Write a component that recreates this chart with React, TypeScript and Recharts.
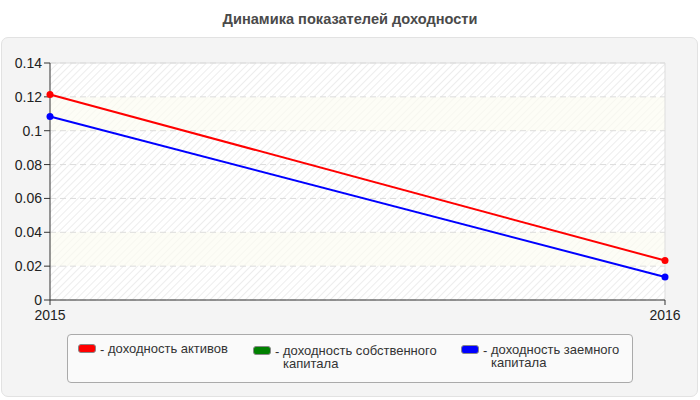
import { LineChart, Line, XAxis, YAxis, CartesianGrid, ReferenceLine } from "recharts";

const years = ["2015", "2016"];
const assetReturn = [0.1214, 0.0233];
const equityReturn: (number | null)[] = [null, null];
const debtReturn = [0.1084, 0.0136];
const yTicks = [0, 0.02, 0.04, 0.06, 0.08, 0.1, 0.12, 0.14];

const series = [
  { key: "assets", name: "доходность активов", color: "#ff0000" },
  { key: "equity", name: "доходность собственного капитала", color: "#008000" },
  { key: "debt", name: "доходность заемного капитала", color: "#0000ff" },
];

const data = years.map((year, i) => ({
  year,
  assets: assetReturn[i],
  equity: equityReturn[i],
  debt: debtReturn[i],
}));

const font = "'Liberation Sans', Arial, sans-serif";

// legend column positions follow the reference layout
const legendPos = [
  { left: 10, top: 7 },
  { left: 185, top: 9 },
  { left: 393, top: 8 },
];

export default function App() {
  return (
    <div style={{ position: "relative", width: 700, height: 400, background: "#fff", fontFamily: font }}>
      <style>{`body{margin:0}`}</style>
      <div
        style={{
          position: "absolute",
          top: 11,
          left: 0,
          width: 700,
          textAlign: "center",
          fontWeight: "bold",
          fontSize: 14.6,
          color: "#4a4a4a",
        }}
      >
        Динамика показателей доходности
      </div>
      <div
        style={{
          position: "absolute",
          left: 1,
          top: 37,
          width: 695,
          height: 358,
          background: "#f4f4f4",
          border: "1px solid #e2e2e2",
          borderRadius: 7,
        }}
      />
      <div style={{ position: "absolute", left: 0, top: 0 }}>
        <LineChart width={700} height={400} data={data} margin={{ top: 63, right: 35, bottom: 70, left: 0 }}>
          <defs>
            <pattern id="hatch" width="5" height="5" patternUnits="userSpaceOnUse" patternTransform="rotate(45)">
              <rect width="5" height="5" fill="#ffffff" />
              <line x1="0" y1="0" x2="0" y2="5" stroke="#e8e8e8" strokeWidth="1.5" />
            </pattern>
            <pattern id="hatchY" width="5" height="5" patternUnits="userSpaceOnUse" patternTransform="rotate(45)">
              <rect width="5" height="5" fill="#fdfdf6" />
              <line x1="0" y1="0" x2="0" y2="5" stroke="#f2f2ea" strokeWidth="1" />
            </pattern>
          </defs>
          <CartesianGrid
            vertical={false}
            stroke="#dcdcdc"
            strokeDasharray="6 4"
            fill="url(#hatch)"
            horizontalFill={[
              "url(#hatch)",
              "url(#hatchY)",
              "url(#hatch)",
              "url(#hatch)",
              "url(#hatch)",
              "url(#hatchY)",
              "url(#hatch)",
            ]}
          />
          <ReferenceLine y={0.14} stroke="#dddddd" />
          <ReferenceLine x="2016" stroke="#dddddd" />
          <XAxis
            dataKey="year"
            height={30}
            stroke="#333"
            tickSize={5}
            tick={{ fill: "#222", fontSize: 14, fontFamily: font, dy: 3 }}
            tickLine={{ stroke: "#333" }}
          />
          <YAxis
            width={50}
            domain={[0, 0.14]}
            ticks={yTicks}
            stroke="#333"
            tickSize={6}
            tick={{ fill: "#222", fontSize: 14, fontFamily: font }}
            interval={0}
          />
          {series.map((s) => (
            <Line
              key={s.key}
              dataKey={s.key}
              name={s.name}
              stroke={s.color}
              strokeWidth={2}
              dot={{ r: 3.5, fill: s.color, stroke: s.color, strokeWidth: 0 }}
              isAnimationActive={false}
            />
          ))}
        </LineChart>
      </div>
      <div
        style={{
          position: "absolute",
          left: 67,
          top: 334,
          width: 564,
          height: 47,
          background: "#fafafa",
          border: "1px solid #aaaaaa",
          borderRadius: 4,
          fontSize: 13,
          color: "#333",
        }}
      >
        {series.map((s, i) => (
          <div key={s.key} style={{ position: "absolute", left: legendPos[i].left, top: legendPos[i].top, display: "flex" }}>
            <div
              style={{
                width: 16,
                height: 7,
                background: s.color,
                border: "1px solid #888",
                borderRadius: 3,
                marginTop: 2,
              }}
            />
            <div style={{ marginLeft: 4, width: 8 }}>-</div>
            <div style={{ width: i === 0 ? 160 : 170, lineHeight: "13px" }}>{s.name}</div>
          </div>
        ))}
      </div>
    </div>
  );
}
